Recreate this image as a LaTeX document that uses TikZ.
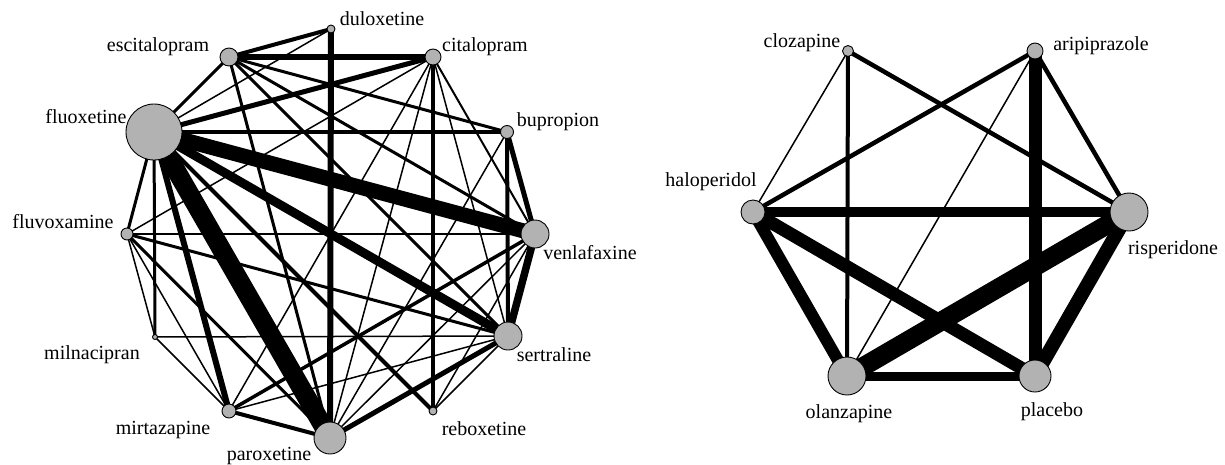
\documentclass[tikz,border=0pt]{standalone}
\usepackage{fontspec}
\setmainfont{Liberation Serif}
\definecolor{nodegray}{RGB}{178,178,178}
\pgfdeclarelayer{bg}
\pgfsetlayers{bg,main}
\begin{document}
\begin{tikzpicture}[x=1pt,y=-1pt,
  nd/.style={circle,draw=black,line width=0.9pt,fill=nodegray,inner sep=0pt,minimum size=#1},
  lbl/.style={font=\fontsize{20}{22}\selectfont,inner sep=0pt,anchor=center},
  ed/.style={line width=#1,draw=black}]
\useasboundingbox (0,0) rectangle (1225,464);
% ---------- left network ----------
\node[nd=8pt]  (dul) at (331,29) {};
\node[nd=16pt] (cit) at (433,57) {};
\node[nd=13pt] (bup) at (507,132) {};
\node[nd=28pt] (ven) at (535,234) {};
\node[nd=28pt] (ser) at (508,336) {};
\node[nd=8pt]  (reb) at (433,411) {};
\node[nd=32pt] (par) at (330,438) {};
\node[nd=14pt] (mir) at (229,411) {};
\node[nd=5pt]  (mil) at (155,337) {};
\node[nd=12pt] (flv) at (127,234) {};
\node[nd=56pt] (flx) at (154,132) {};
\node[nd=18pt] (esc) at (229,57) {};
\node[lbl] (ldul) at (382,19) {duloxetine};
\node[lbl] (lcit) at (485,47) {citalopram};
\node[lbl] (lbup) at (558,122) {bupropion};
\node[lbl] (lven) at (590,253) {venlafaxine};
\node[lbl] (lser) at (554,355) {sertraline};
\node[lbl] (lreb) at (484,429) {reboxetine};
\node[lbl] (lpar) at (269,456) {paroxetine};
\node[lbl] (lmir) at (163,430) {mirtazapine};
\node[lbl] (lmil) at (92,355) {milnacipran};
\node[lbl] (lflv) at (63,222) {fluvoxamine};
\node[lbl] (lflx) at (86,117) {fluoxetine};
\node[lbl] (lesc) at (158,47) {escitalopram};
\begin{pgfonlayer}{bg}
\draw[ed=19pt] (flx.center) -- (par.center);
\draw[ed=15pt] (flx.center) -- (ven.center);
\draw[ed=9pt] (flx.center) -- (ser.center);
\draw[ed=7.5pt] (ser.center) -- (ven.center);
\draw[ed=6pt] (dul.center) -- (par.center);
\draw[ed=6pt] (esc.center) -- (cit.center);
\draw[ed=5pt] (flx.center) -- (cit.center);
\draw[ed=6pt] (flx.center) -- (mir.center);
\draw[ed=5pt] (bup.center) -- (ven.center);
\draw[ed=5pt] (par.center) -- (ser.center);
\draw[ed=4pt] (esc.center) -- (dul.center);
\draw[ed=4pt] (flx.center) -- (bup.center);
\draw[ed=4pt] (flx.center) -- (reb.center);
\draw[ed=4pt] (cit.center) -- (reb.center);
\draw[ed=4pt] (bup.center) -- (ser.center);
\draw[ed=4pt] (mir.center) -- (par.center);
\draw[ed=3.5pt] (mir.center) -- (ven.center);
\draw[ed=3pt] (flx.center) -- (esc.center);
\draw[ed=3pt] (flx.center) -- (flv.center);
\draw[ed=3pt] (flx.center) -- (mil.center);
\draw[ed=3pt] (esc.center) -- (bup.center);
\draw[ed=3pt] (esc.center) -- (ven.center);
\draw[ed=3pt] (esc.center) -- (ser.center);
\draw[ed=3pt] (esc.center) -- (par.center);
\draw[ed=3pt] (flv.center) -- (ser.center);
\draw[ed=3pt] (flv.center) -- (par.center);
\draw[ed=1.5pt] (flx.center) -- (dul.center);
\draw[ed=1.5pt] (flv.center) -- (cit.center);
\draw[ed=1.5pt] (flv.center) -- (ven.center);
\draw[ed=1.5pt] (flv.center) -- (mil.center);
\draw[ed=1.5pt] (flv.center) -- (mir.center);
\draw[ed=1.5pt] (mil.center) -- (ser.center);
\draw[ed=1.5pt] (mil.center) -- (mir.center);
\draw[ed=1.5pt] (mir.center) -- (ser.center);
\draw[ed=1.5pt] (cit.center) -- (mir.center);
\draw[ed=1.5pt] (cit.center) -- (par.center);
\draw[ed=1.5pt] (cit.center) -- (ser.center);
\draw[ed=2pt] (cit.center) -- (ven.center);
\draw[ed=1.5pt] (bup.center) -- (par.center);
\draw[ed=1.5pt] (par.center) -- (ven.center);
\draw[ed=1.5pt] (reb.center) -- (ser.center);
\draw[ed=1.5pt] (reb.center) -- (ven.center);
\end{pgfonlayer}
% ---------- right network ----------
\node[nd=11pt] (clo) at (848,51) {};
\node[nd=16pt] (ari) at (1035,51) {};
\node[nd=38pt] (ris) at (1129,212) {};
\node[nd=32pt] (pla) at (1035,376) {};
\node[nd=38pt] (ola) at (847,376) {};
\node[nd=24pt] (hal) at (753,212) {};
\node[lbl] (lclo) at (802,43) {clozapine};
\node[lbl] (lari) at (1101,46) {aripiprazole};
\node[lbl] (lris) at (1173,250) {risperidone};
\node[lbl] (lpla) at (1052,412) {placebo};
\node[lbl] (lola) at (849,414) {olanzapine};
\node[lbl] (lhal) at (711,182) {haloperidol};
\begin{pgfonlayer}{bg}
\draw[ed=19pt] (ris.center) -- (ola.center);
\draw[ed=14pt] (ris.center) -- (pla.center);
\draw[ed=13pt] (hal.center) -- (pla.center);
\draw[ed=13pt] (ari.center) -- (pla.center);
\draw[ed=12pt] (hal.center) -- (ola.center);
\draw[ed=10pt] (hal.center) -- (ris.center);
\draw[ed=9pt] (ola.center) -- (pla.center);
\draw[ed=4.5pt] (ari.center) -- (hal.center);
\draw[ed=4.5pt] (ari.center) -- (ris.center);
\draw[ed=4.5pt] (clo.center) -- (ris.center);
\draw[ed=4pt] (clo.center) -- (ola.center);
\draw[ed=1.5pt] (clo.center) -- (hal.center);
\draw[ed=1.5pt] (ari.center) -- (ola.center);
\end{pgfonlayer}
\end{tikzpicture}
\end{document}
